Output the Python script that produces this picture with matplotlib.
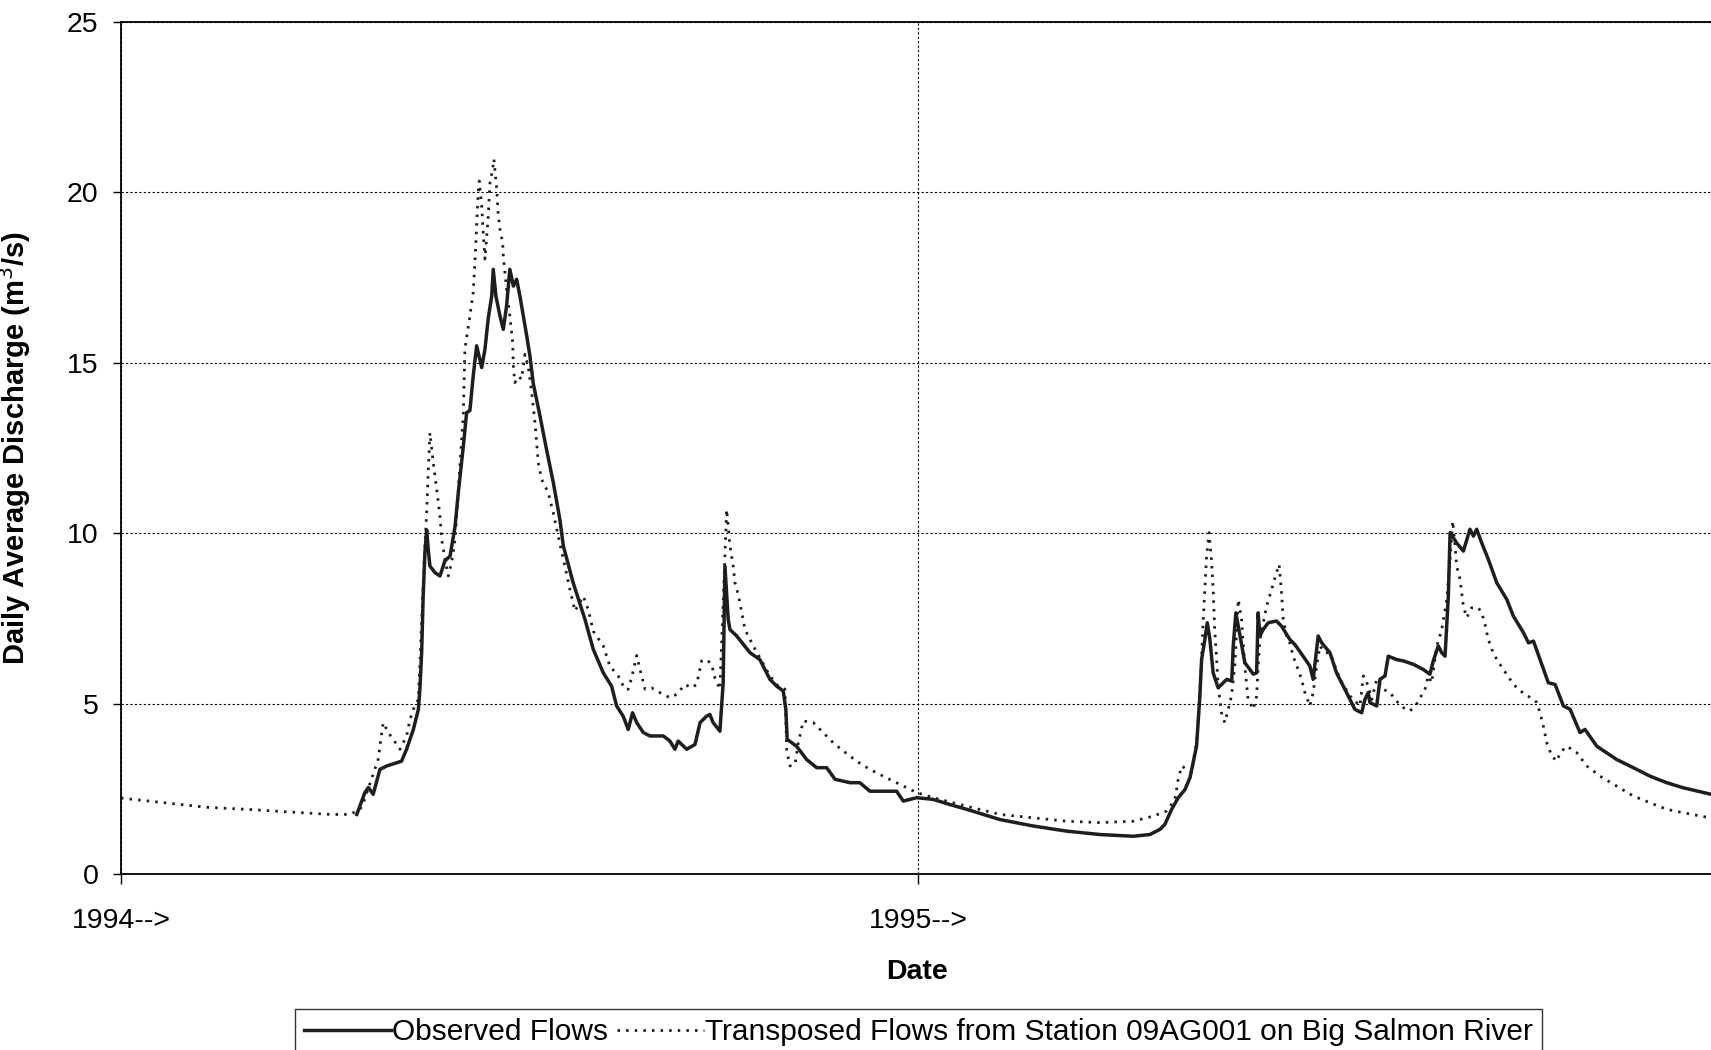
import matplotlib
matplotlib.use('Agg')
import matplotlib.pyplot as plt

plt.rcParams['font.family'] = ['Liberation Sans', 'DejaVu Sans']

# (day since 1 Jan 1994, discharge m3/s)
observed = [
    (108, 1.76), (111.7, 2.4), (113.3, 2.55), (115.5, 2.35), (118.6, 3.08), (121.7, 3.18),
    (128.5, 3.32), (130.8, 3.67), (133.9, 4.25), (136.2, 4.84), (136.9, 5.43), (137.7, 6.5),
    (138.4, 8.16), (139.2, 9.44), (140.0, 10.1), (140.7, 9.53), (141.5, 9.04), (143.8, 8.85),
    (146.1, 8.75), (148.4, 9.2), (150.7, 9.33), (153.0, 10.2), (154.5, 11.2), (156.8, 12.56),
    (158.3, 13.54), (159.8, 13.6), (161.3, 14.6), (162.9, 15.5), (165.2, 14.86), (166.7, 15.4),
    (168.2, 16.3), (169.8, 16.96), (170.5, 17.74), (171.7, 16.96), (173.6, 16.37), (175.1, 15.98),
    (176.6, 16.67), (178.1, 17.74), (179.7, 17.25), (181.2, 17.45), (182.7, 16.96), (185.8, 15.8),
    (187.3, 15.2), (188.8, 14.4), (191.9, 13.44), (194.9, 12.46), (198.0, 11.49), (201.0, 10.41),
    (202.6, 9.63), (207.1, 8.55), (212.5, 7.48), (216.3, 6.6), (220.9, 5.91), (224.7, 5.52),
    (227.0, 4.94), (230.0, 4.64), (232.3, 4.25), (234.3, 4.74), (236.2, 4.45), (239.2, 4.16),
    (242.3, 4.06), (248.4, 4.06), (251.4, 3.91), (253.7, 3.67), (255.2, 3.91), (259.1, 3.67),
    (262.9, 3.81), (265.2, 4.45), (268.2, 4.64), (269.7, 4.69), (271.2, 4.45), (274.3, 4.2),
    (275.8, 5.62), (276.6, 9.04), (278.1, 7.48), (278.9, 7.18), (282.0, 6.99), (288.1, 6.5),
    (292.6, 6.3), (297.2, 5.72), (300.3, 5.52), (303.3, 5.38), (304.5, 4.84), (305.1, 3.96),
    (309.4, 3.76), (314.0, 3.37), (318.6, 3.13), (323.2, 3.13), (327.0, 2.79), (333.9, 2.69),
    (338.4, 2.69), (343.0, 2.44), (349.1, 2.44), (355.2, 2.44), (358.3, 2.15), (364.4, 2.25),
    (372.0, 2.2), (379.6, 2.05), (387.3, 1.91), (402.5, 1.61), (417.8, 1.42), (433.1, 1.27),
    (448.3, 1.17), (463.6, 1.12), (471.2, 1.17), (475.8, 1.32), (478.1, 1.47), (481.2, 1.91),
    (484.2, 2.25), (487.3, 2.49), (489.6, 2.84), (492.6, 3.76), (494.1, 5.23), (494.9, 6.3),
    (496.4, 6.89), (497.5, 7.38), (498.7, 6.89), (500.2, 5.91), (502.5, 5.47), (506.4, 5.72),
    (508.7, 5.67), (509.4, 6.7), (510.6, 7.67), (512.5, 6.99), (514.7, 6.21), (518.6, 5.87),
    (520.1, 5.91), (520.8, 7.67), (521.6, 6.99), (523.1, 7.18), (525.4, 7.38), (529.2, 7.43),
    (531.5, 7.28), (535.3, 6.89), (537.6, 6.74), (539.2, 6.6), (544.5, 6.11), (546.0, 5.72),
    (548.3, 6.99), (549.9, 6.79), (553.7, 6.5), (556.7, 5.91), (561.3, 5.33), (565.1, 4.84),
    (568.2, 4.74), (569.7, 5.13), (571.2, 5.33), (572.0, 5.04), (575.1, 4.94), (576.6, 5.72),
    (578.9, 5.82), (580.4, 6.4), (584.2, 6.3), (587.3, 6.26), (591.9, 6.16), (596.4, 6.01),
    (599.5, 5.87), (601.0, 6.26), (603.3, 6.7), (604.9, 6.5), (606.4, 6.4), (607.9, 8.16),
    (608.7, 10.02), (611.7, 9.72), (614.8, 9.48), (617.8, 10.12), (619.4, 9.92), (620.9, 10.12),
    (623.2, 9.72), (626.2, 9.24), (630.1, 8.55), (634.7, 8.06), (637.7, 7.57), (642.3, 7.09),
    (644.6, 6.79), (646.9, 6.84), (649.9, 6.3), (653.7, 5.62), (656.8, 5.57), (660.6, 4.94),
    (663.7, 4.84), (668.2, 4.16), (670.5, 4.25), (675.9, 3.76), (685.0, 3.37), (692.6, 3.13),
    (700.3, 2.88), (707.9, 2.69), (715.5, 2.54), (728.2, 2.35),
]

transposed = [
    (0, 2.24), (20, 2.1), (39, 1.97), (60, 1.9), (80, 1.82), (96, 1.76), (104.9, 1.76),
    (109.5, 1.91), (111.0, 2.1), (117.8, 3.37), (118.6, 3.76), (120.1, 4.45), (122.4, 4.16),
    (124.7, 3.96), (127.8, 3.67), (130.8, 4.06), (132.4, 4.55), (133.9, 4.84), (136.2, 5.13),
    (139.2, 9.63), (140.0, 10.6), (140.7, 11.77), (141.5, 12.95), (143.0, 12.07), (144.6, 11.29),
    (146.1, 10.5), (146.9, 9.82), (148.4, 9.24), (149.9, 8.75), (151.4, 9.14), (153.0, 9.82),
    (156.8, 13.5), (157.5, 15.4), (159.8, 16.37), (161.3, 17.06), (162.1, 17.94), (162.9, 19.01),
    (163.6, 19.99), (164.1, 20.33), (165.2, 19.6), (165.9, 18.82), (166.7, 18.04), (168.2, 19.3),
    (169.0, 20.28), (170.2, 20.67), (170.8, 20.97), (172.1, 20.09), (172.8, 19.3), (173.6, 18.91),
    (174.8, 18.52), (175.1, 18.13), (176.6, 17.16), (178.1, 16.37), (179.4, 15.59), (179.7, 14.9),
    (180.4, 14.42), (181.9, 14.6), (183.5, 14.52), (185.0, 15.25), (186.5, 14.9), (188.1, 14.13),
    (189.6, 13.25), (191.1, 12.07), (192.7, 11.58), (195.7, 11.19), (198.0, 10.6), (200.3, 9.9),
    (203.3, 9.04), (205.6, 8.36), (207.9, 7.72), (211.7, 8.16), (214.0, 7.77), (216.3, 7.13),
    (220.9, 6.7), (223.9, 6.11), (227.7, 5.82), (230.8, 5.43), (232.3, 5.43), (233.9, 5.77),
    (236.2, 6.42), (237.7, 6.01), (240.0, 5.43), (243.0, 5.47), (245.3, 5.38), (248.4, 5.28),
    (251.4, 5.18), (254.5, 5.28), (258.3, 5.57), (261.4, 5.47), (263.6, 5.57), (264.8, 5.91),
    (265.9, 6.26), (268.2, 6.3), (270.5, 6.16), (272.0, 5.77), (274.3, 5.43), (277.4, 10.7),
    (278.1, 10.21), (278.9, 9.63), (280.4, 9.04), (281.2, 8.55), (282.7, 8.21), (285.8, 7.18),
    (289.6, 6.7), (292.6, 6.35), (297.2, 5.82), (301.0, 5.52), (304.1, 5.43), (304.9, 3.62),
    (306.4, 3.18), (308.7, 3.23), (310.2, 3.86), (312.5, 4.5), (317.1, 4.45), (321.6, 4.16),
    (326.2, 3.86), (330.8, 3.62), (336.9, 3.32), (343.0, 3.08), (349.1, 2.88), (356.7, 2.64),
    (364.4, 2.4), (372.0, 2.25), (387.3, 2.0), (402.5, 1.76), (417.8, 1.66), (433.1, 1.56),
    (448.3, 1.52), (463.6, 1.56), (472.8, 1.71), (478.9, 1.86), (482.7, 2.2), (484.2, 2.79),
    (485.8, 3.18), (488.1, 3.08), (490.3, 3.0), (492.6, 3.9), (494.1, 5.2), (495.6, 7.38),
    (496.4, 8.36), (497.1, 9.24), (497.9, 9.77), (498.3, 10.02), (499.4, 9.24), (500.2, 8.36),
    (500.9, 7.18), (501.7, 6.4), (502.5, 5.52), (504.0, 4.74), (505.5, 4.45), (507.1, 4.84),
    (508.6, 5.23), (510.1, 6.11), (511.7, 8.06), (513.2, 7.48), (514.7, 6.11), (516.2, 5.13),
    (518.5, 4.84), (520.1, 5.23), (520.8, 6.11), (521.6, 6.89), (524.7, 7.87), (527.0, 8.36),
    (529.2, 8.85), (530.4, 9.09), (531.5, 8.26), (532.3, 7.48), (533.8, 6.99), (535.3, 6.79),
    (536.8, 6.4), (539.1, 6.01), (540.7, 5.72), (542.2, 5.33), (544.5, 4.94), (546.0, 5.33),
    (547.6, 6.11), (549.1, 6.7), (551.4, 6.5), (553.7, 6.5), (558.3, 5.72), (562.9, 5.23),
    (567.4, 4.94), (569.0, 5.82), (571.3, 5.52), (572.8, 5.13), (575.1, 5.72), (578.1, 5.43),
    (581.2, 5.33), (584.2, 5.08), (587.3, 4.89), (590.3, 4.79), (593.4, 5.0), (597.2, 5.43),
    (598.7, 5.82), (600.3, 5.62), (602.6, 6.7), (604.9, 7.18), (607.2, 8.06), (608.7, 9.24),
    (609.9, 10.36), (611.0, 9.63), (611.7, 9.04), (613.3, 8.65), (614.0, 8.26), (614.8, 7.87),
    (616.3, 7.53), (618.6, 7.82), (621.6, 7.82), (623.2, 7.67), (624.7, 7.33), (626.2, 6.89),
    (627.8, 6.6), (630.1, 6.3), (633.1, 6.01), (636.2, 5.72), (639.2, 5.47), (643.0, 5.28),
    (646.9, 5.13), (648.4, 5.04), (649.9, 4.74), (651.4, 4.35), (653.0, 3.86), (655.3, 3.47),
    (657.6, 3.32), (659.1, 3.57), (662.2, 3.76), (666.7, 3.57), (671.3, 3.18), (677.4, 2.88),
    (685.0, 2.59), (692.6, 2.3), (700.3, 2.1), (707.9, 1.91), (715.5, 1.81), (727.7, 1.66),
]

year_ticks = [0, 365]
year_labels = ['1994-->', '1995-->']
y_ticks = [0, 5, 10, 15, 20, 25]

obs_day, obs_flow = zip(*observed)
tr_day, tr_flow = zip(*transposed)

fig = plt.figure(figsize=(17.11, 10.5), dpi=100)
ax = fig.add_axes([0.0707, 0.1672, 0.9316, 0.8121])

ax.plot(obs_day, obs_flow, color='#1e1e1e', lw=2.5, label='Observed Flows', zorder=3)
ax.plot(tr_day, tr_flow, color='#1e1e1e', lw=2.0, linestyle=(0, (0.9, 2.2)),
        label='Transposed Flows from Station 09AG001 on Big Salmon River', zorder=2)

ax.set_xlim(0, 730)
ax.set_ylim(0, 25)
ax.set_xticks(year_ticks)
ax.set_xticklabels(year_labels)
ax.set_yticks(y_ticks)

# dotted grid, solid frame on top/left/bottom
ax.grid(True, color='black', lw=0.8, linestyle=(0, (2, 2)))
for s in ['left', 'bottom', 'top']:
    ax.spines[s].set_linewidth(1.3)
ax.spines['right'].set_visible(False)

ax.tick_params(axis='y', direction='out', length=6, width=1, pad=10, labelsize=20.5)
ax.tick_params(axis='x', direction='out', length=7, width=1, pad=17, labelsize=20.5)

ax.set_xlabel('Date', fontsize=20.5, fontweight='bold')
ax.xaxis.set_label_coords(0.4994, -0.099)
ax.set_ylabel('Daily Average Discharge (m$^3$/s)', fontsize=21, fontweight='bold')
ax.yaxis.set_label_coords(-0.0552, 0.5)

leg = fig.legend(loc='upper center', bbox_to_anchor=(0.537, 0.039), ncol=2,
                 fontsize=21.5, frameon=True, fancybox=False, edgecolor='black',
                 handlelength=2.9, handletextpad=0.05, columnspacing=0.3,
                 borderpad=0.3, borderaxespad=0)
leg.get_frame().set_linewidth(1.0)

fig.savefig('out.png', dpi=100, facecolor='white')
